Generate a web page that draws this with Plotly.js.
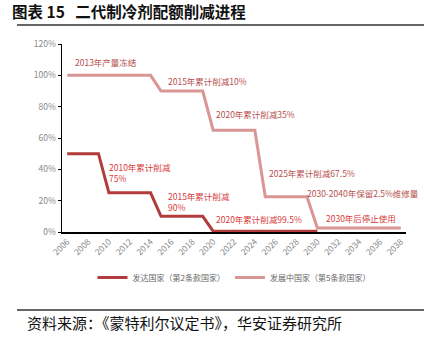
<!DOCTYPE html>
<html><head><meta charset="utf-8">
<script src="https://cdn.plot.ly/plotly-3.0.1.min.js"></script>
<style>body{margin:0;background:#fff}#c{width:424px;height:353px}</style>
</head><body><div id="c"></div>
<script>
const years = [2006,2007,2008,2009,2010,2011,2012,2013,2014,2015,2016,2017,2018,2019,2020,2021,2022,2023,2024,2025,2026,2027,2028,2029,2030,2031,2032,2033,2034,2035,2036,2037,2038];
const developed = [50,50,50,50,25,25,25,25,25,10,10,10,10,10,0.5,0.5,0.5,0.5,0.5,0.5,0.5,0.5,0.5,0.5,0.5];
const developing = [100,100,100,100,100,100,100,100,100,90,90,90,90,90,65,65,65,65,65,22.5,22.5,22.5,22.5,22.5,2.5,2.5,2.5,2.5,2.5,2.5,2.5,2.5,2.5];
const tickYears = [2006,2008,2010,2012,2014,2016,2018,2020,2022,2024,2026,2028,2030,2032,2034,2036,2038];
const yTicks = [0,20,40,60,80,100,120];
const seriesNames = ['发达国家（第2条款国家）','发展中国家（第5条款国家）'];
const notesDeveloping = [
  {x:2006.6, y:108.5, t:'2013年产量冻结'},
  {x:2015.5, y:96.1, t:'2015年累计削减10%'},
  {x:2020.1, y:75.3, t:'2020年累计削减35%'},
  {x:2025.2, y:37.7, t:'2025年累计削减67.5%'},
  {x:2028.8, y:24.9, t:'2030-2040年保留2.5%维修量'}
];
const notesDeveloped = [
  {x:2009.8, y:38.3, t:'2010年累计削减<br>75%'},
  {x:2015.5, y:19.3, t:'2015年累计削减<br>90%'},
  {x:2020.1, y:8.3, t:'2020年累计削减99.5%'},
  {x:2030.6, y:8.9, t:'2030年后停止使用'}
];
const F = '"Noto Sans CJK SC", "Liberation Sans", Arial, sans-serif';
const cDev = '#b23b3b', cDing = '#d99694';
const traces = [
  {x: years.slice(0, developed.length), y: developed, type:'scatter', mode:'lines', name: seriesNames[0], line:{color:cDev, width:3}},
  {x: years, y: developing, type:'scatter', mode:'lines', name: seriesNames[1], line:{color:cDing, width:3}}
];
const ann = [];
notesDeveloping.forEach(n => ann.push({x:n.x, y:n.y, xref:'x', yref:'y', text:n.t, showarrow:false, xanchor:'left', yanchor:'middle', align:'left', font:{family:F, size:8.5, color:'#b5514f'}}));
notesDeveloped.forEach(n => ann.push({x:n.x, y:n.y, xref:'x', yref:'y', text:n.t, showarrow:false, xanchor:'left', yanchor:'middle', align:'left', font:{family:F, size:8.5, color:'#d83a3a'}}));
ann.push({xref:'paper', yref:'paper', x:-37/344, y:-(322-232)/188, xanchor:'left', yanchor:'middle', showarrow:false,
  text:'资料来源：《蒙特利尔议定书》，华安证券研究所', font:{family:F, size:15, color:'#111'}});
const layout = {
  width:424, height:353,
  margin:{l:62, r:18, t:44, b:121},
  paper_bgcolor:'#fff', plot_bgcolor:'#fff',
  title:{text:'<b>图表 15   二代制冷剂配额削减进程</b>', x:12/424, xanchor:'left', y:1-13/353, yanchor:'middle', font:{family:F, size:15.5, color:'#111'}},
  showlegend:true,
  legend:{orientation:'h', x:0.5, xanchor:'center', y:-(263-232)/188, yanchor:'top', font:{family:F, size:8, color:'#666'}, itemwidth:30, tracegroupgap:0},
  xaxis:{range:[2005.5, 2038.5], tickvals:tickYears, ticktext:tickYears.map(String), tickangle:-45, showgrid:false, zeroline:false,
    showline:true, linecolor:'#000', linewidth:1.5, ticks:'', tickfont:{family:F, size:8.5, color:'#888'}},
  yaxis:{range:[0,120], tickvals:yTicks, ticktext:yTicks.map(v=>v+'%'), showgrid:false, zeroline:false,
    showline:true, linecolor:'#000', linewidth:1.5, ticks:'outside', ticklen:3, tickcolor:'#000', tickfont:{family:F, size:8.5, color:'#888'}},
  annotations: ann,
  shapes:[
    {type:'line', xref:'paper', yref:'paper', x0:-45/344, x1:1.06, y0:1+(44-25)/188, y1:1+(44-25)/188, line:{color:'#333', width:1.3}},
    {type:'line', xref:'paper', yref:'paper', x0:-45/344, x1:1.06, y0:-(310-232)/188, y1:-(310-232)/188, line:{color:'#333', width:1.3}}
  ]
};
Plotly.newPlot('c', traces, layout, {displayModeBar:false, staticPlot:true});
</script></body></html>
